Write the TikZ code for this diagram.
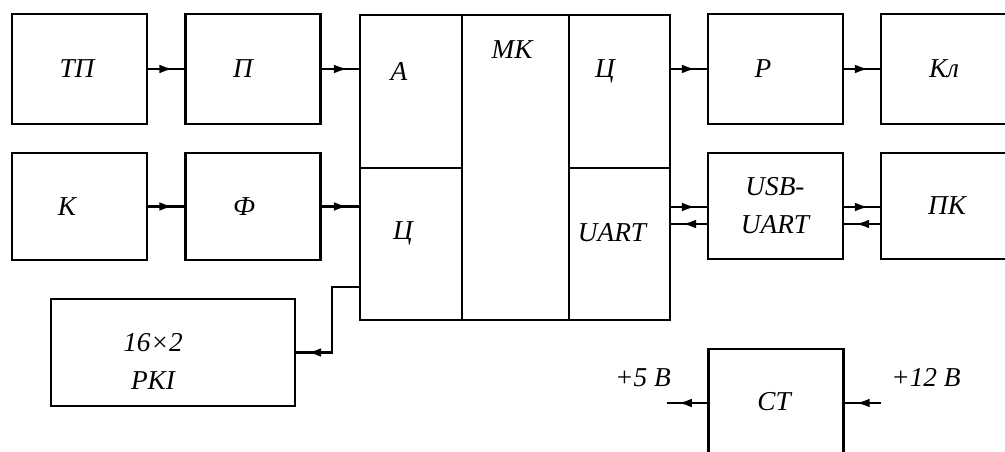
\documentclass[tikz,border=0pt]{standalone}
\usepackage{fontspec}
\setmainfont{Liberation Serif}
\usetikzlibrary{arrows.meta,calc,decorations.markings}

\begin{document}
\begin{tikzpicture}[x=0.0125cm, y=-0.0125cm, every node/.style={font=\fontsize{9.7}{13.5}\selectfont\itshape}, blok/.style={draw, line width=0.9pt, minimum width=1.69cm, minimum height=1.375cm, inner sep=0pt}, lbl/.style={inner sep=1pt, align=center}, conn/.style={line width=0.8pt, postaction={decorate}, decoration={markings, mark=at position -0.14cm with {\arrow{Latex[length=1.7mm, width=1.1mm]}}}}]
	\clip (0,0) rectangle (1005,452);
	\node[blok] (tp) at (79.5,69) {};
	\node[blok] (p) at (253,69) {};
	\node[blok] (r) at (775.5,69) {};
	\node[blok] (kl) at (948.5,69) {};
	\node[blok, minimum height=1.34cm] (k) at (79.5,206.5) {};
	\node[blok, minimum height=1.34cm] (f) at (253,206.5) {};
	\node[blok, minimum height=1.325cm] (usb) at (775.5,206) {};
	\node[blok, minimum height=1.325cm] (pk) at (948.5,206) {};
	\node[blok, minimum width=3.05cm, minimum height=1.34cm] (lcd) at (173,352.5) {};
	\node[blok, minimum height=1.35cm] (st) at (776,403) {};
	\node[blok, minimum width=1.275cm, minimum height=1.9125cm] (adc) at (411,91.5) {};
	\node[blok, minimum width=1.275cm, minimum height=1.9cm] (cl) at (411,244) {};
	\node[blok, minimum width=1.3375cm, minimum height=3.8125cm] (mk) at (515.5,167.5) {};
	\node[blok, minimum width=1.2625cm, minimum height=1.9125cm] (cr) at (619.5,91.5) {};
	\node[blok, minimum width=1.2625cm, minimum height=1.9cm] (uart) at (619.5,244) {};
	\node[lbl] (tpT) at (77,69) {ТП};
	\node[lbl] (pT) at (243,69) {П};
	\node[lbl] (kT) at (67,207) {К};
	\node[lbl] (fT) at (244,207) {Ф};
	\node[lbl] (rT) at (763,69) {Р};
	\node[lbl] (klT) at (944,69) {Кл};
	\node[lbl] (pkT) at (947,206) {ПК};
	\node[lbl] (usbT) at (775,206) {USB-\\UART};
	\node[lbl] (lcdT) at (153,361) {16×2\\РКІ};
	\node[lbl] (stT) at (774,402) {СТ};
	\node[lbl] (adcT) at (399,72) {А};
	\node[lbl] (mkT) at (512,50) {МК};
	\node[lbl] (crT) at (605,71) {Ц};
	\node[lbl] (clT) at (403,233) {Ц};
	\node[lbl] (uartT) at (612,233) {UART};
	\node[lbl] (v5T) at (643,378) {+5 В};
	\node[lbl] (v12T) at (926,378) {+12 В};
	\draw[conn] (tp) -- (p);
	\draw[conn] (p.east) -- (p.east -| adc.west);
	\draw[conn] (k) -- (f);
	\draw[conn] (f.east) -- (f.east -| cl.west);
	\draw[conn] (r.west -| cr.east) -- (r.west);
	\draw[conn] (r) -- (kl);
	\coordinate (tx1) at ($(usb.west)+(0,1)$);
	\coordinate (rx1) at ($(usb.west)+(0,18)$);
	\coordinate (tx2) at ($(pk.west)+(0,1)$);
	\coordinate (rx2) at ($(pk.west)+(0,18)$);
	\draw[conn] (tx1 -| uart.east) -- (tx1);
	\draw[conn] (rx1) -- (rx1 -| uart.east);
	\draw[conn] (tx1 -| usb.east) -- (tx2);
	\draw[conn] (rx2) -- (rx1 -| usb.east);
	\draw[conn] ($(cl.west)+(0,43)$) -- ++(-27,0) |- (lcd.east);
	\coordinate (v12) at ($(st.east)+(36,0)$);
	\coordinate (v5) at ($(st.west)+(-40,0)$);
	\draw[conn] (v12) -- (st.east);
	\draw[conn] (st.west) -- (v5);
\end{tikzpicture}
\end{document}
